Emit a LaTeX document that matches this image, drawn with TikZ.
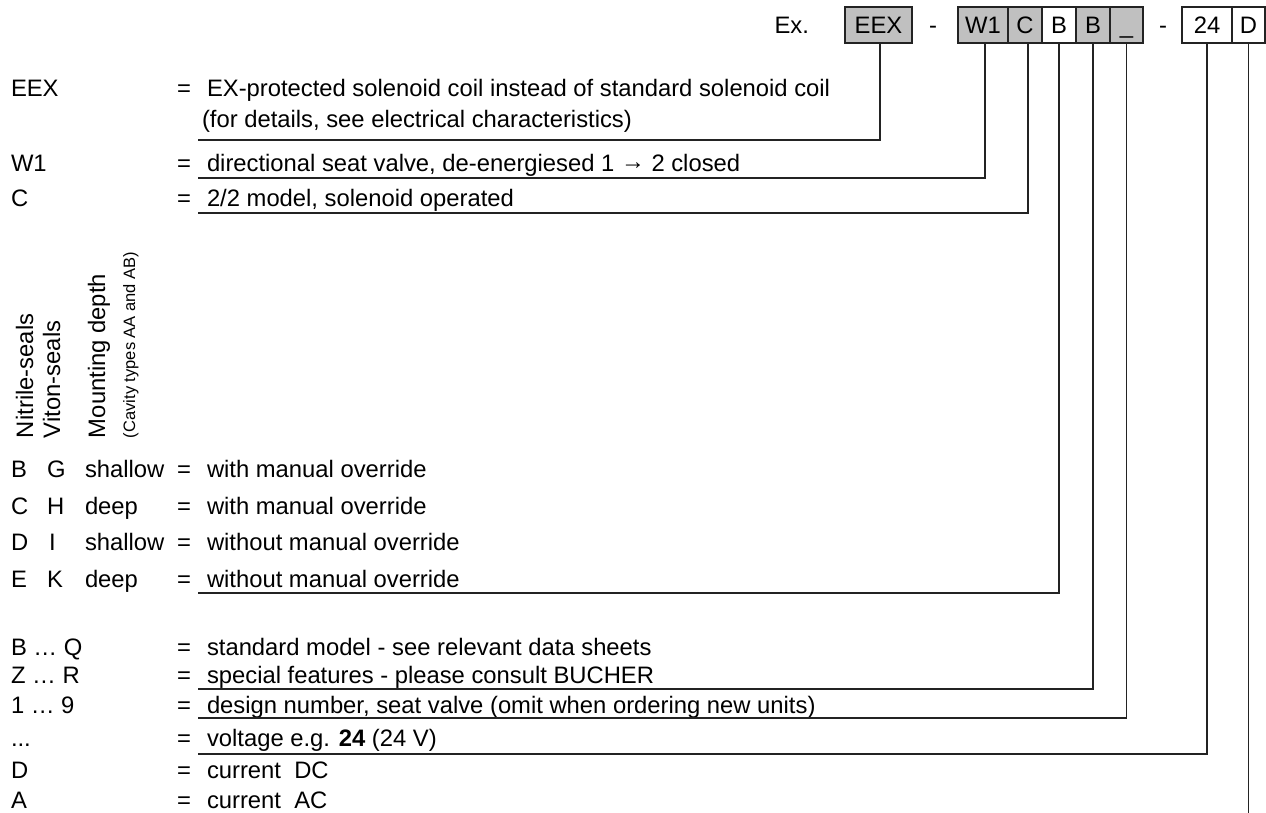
\documentclass[tikz,border=0pt]{standalone}
\usepackage{fontspec}
\setmainfont{Liberation Sans}
\definecolor{boxgray}{RGB}{192,192,192}
\definecolor{linec}{RGB}{35,35,35}
\begin{document}
\begin{tikzpicture}[x=1pt,y=-1pt,
  every node/.style={inner sep=0pt,outer sep=0pt},
  txt/.style={anchor=base west,font=\fontsize{23.8}{28}\selectfont},
  eqs/.style={anchor=base,font=\fontsize{23.8}{28}\selectfont},
  cell/.style={draw=linec,line width=1.2pt,anchor=north west,minimum height=36pt,text height=17pt,text depth=0pt,font=\fontsize{23.8}{28}\selectfont},
  gcell/.style={cell,fill=boxgray},
  wcell/.style={cell,fill=white},
  conn/.style={draw=linec,line width=1.2pt},
  rot/.style={anchor=base west,rotate=90,font=\fontsize{23.8}{28}\selectfont},
  rotsmall/.style={anchor=base west,rotate=90,font=\fontsize{16.5}{20}\selectfont}
]
\useasboundingbox[fill=white] (0,0) rectangle (1266,813);

% ---- header code ----
\node[eqs,anchor=base east] (ex) at (809,33.5) {Ex.};
\node[gcell,minimum width=67pt] (bEEX) at (845,7) {EEX};
\node[eqs] (dash1) at (933,33.5) {-};
\node[gcell,minimum width=50pt] (bW1) at (958,7) {W1};
\node[gcell,minimum width=34pt] (bC) at (1008,7) {C};
\node[wcell,minimum width=34pt] (bB) at (1042,7) {B};
\node[gcell,minimum width=34pt] (bB2) at (1076,7) {B};
\node[gcell,minimum width=33pt] (bU) at (1110,7) {\_};
\node[eqs] (dash2) at (1163,33.5) {-};
\node[wcell,minimum width=50pt] (b24) at (1182,7) {24};
\node[wcell,minimum width=33pt] (bD) at (1232,7) {D};

% ---- upper rows ----
\node[txt] (lEEX) at (11,97) {EEX};
\node[eqs] (qEEX) at (184,97) {=};
\node[txt] (tEEX) at (207,97) {EX-protected solenoid coil instead of standard solenoid coil};
\node[txt] (tEEX2) at (202,128) {(for details, see electrical characteristics)};

\node[txt] (lW1) at (11,172) {W1};
\node[eqs] (qW1) at (184,172) {=};
\node[txt] (tW1) at (207,172) {directional seat valve, de-energiesed 1 \raisebox{2pt}{→} 2 closed};

\node[txt] (lC) at (11,207) {C};
\node[eqs] (qC) at (184,207) {=};
\node[txt] (tC) at (207,207) {2/2 model, solenoid operated};

% ---- rotated column headings ----
\node[rot] (hN) at (33,438) {Nitrile-seals};
\node[rot] (hV) at (60,438) {Viton-seals};
\node[rot] (hM) at (105,438) {Mounting depth};
\node[rotsmall] (hCav) at (135,438) {(Cavity types AA and AB)};

% ---- seal / depth rows ----
\node[txt] (r1a) at (11,477) {B};
\node[txt] (r1b) at (47,477) {G};
\node[txt] (r1c) at (85,477) {shallow};
\node[eqs] (q1) at (184,477) {=};
\node[txt] (t1) at (207,477) {with manual override};

\node[txt] (r2a) at (11,514) {C};
\node[txt] (r2b) at (47,514) {H};
\node[txt] (r2c) at (85,514) {deep};
\node[eqs] (q2) at (184,514) {=};
\node[txt] (t2) at (207,514) {with manual override};

\node[txt] (r3a) at (11,550) {D};
\node[txt] (r3b) at (49,550) {I};
\node[txt] (r3c) at (85,550) {shallow};
\node[eqs] (q3) at (184,550) {=};
\node[txt] (t3) at (207,550) {without manual override};

\node[txt] (r4a) at (11,587) {E};
\node[txt] (r4b) at (47,587) {K};
\node[txt] (r4c) at (85,587) {deep};
\node[eqs] (q4) at (184,587) {=};
\node[txt] (t4) at (207,587) {without manual override};

% ---- lower rows ----
\node[txt] (lBQ) at (11,655) {B … Q};
\node[eqs] (qBQ) at (184,655) {=};
\node[txt] (tBQ) at (207,655) {standard model - see relevant data sheets};

\node[txt] (lZR) at (11,683) {Z … R};
\node[eqs] (qZR) at (184,683) {=};
\node[txt] (tZR) at (207,683) {special features - please consult BUCHER};

\node[txt] (l19) at (11,713) {1 … 9};
\node[eqs] (q19) at (184,713) {=};
\node[txt] (t19) at (207,713) {design number, seat valve (omit when ordering new units)};

\node[txt] (lV) at (11,746) {...};
\node[eqs] (qV) at (184,746) {=};
\node[txt] (tV) at (207,746) {voltage e.g. \textbf{24} (24 V)};

\node[txt] (lD) at (11,778) {D};
\node[eqs] (qD) at (184,778) {=};
\node[txt] (tD) at (207,778) {current\ \ DC};

\node[txt] (lA) at (11,808) {A};
\node[eqs] (qA) at (184,808) {=};
\node[txt] (tA) at (207,808) {current\ \ AC};

% ---- connector end points ----
\coordinate (eEEX) at (198,140);
\coordinate (eW1) at (198,178);
\coordinate (eC) at (198,213);
\coordinate (eB) at (198,593);
\coordinate (eB2) at (198,689);
\coordinate (eU) at (198,718);
\coordinate (e24) at (198,754);
\coordinate (eD) at (1248.5,813);

% ---- connectors ----
\draw[conn] ([xshift=1.5pt]bEEX.south) |- (eEEX);
\draw[conn] ([xshift=2pt]bW1.south) |- (eW1);
\draw[conn] ([xshift=3pt]bC.south) |- (eC);
\draw[conn] (bB.south) |- (eB);
\draw[conn] (bB2.south) |- (eB2);
\draw[conn] (bU.south) |- (eU);
\draw[conn] (b24.south) |- (e24);
\draw[conn] (bD.south) -- (eD);
\end{tikzpicture}
\end{document}
